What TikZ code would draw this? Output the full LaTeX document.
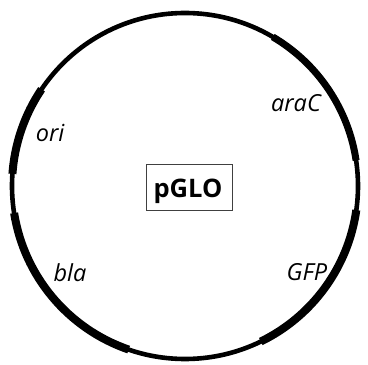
\documentclass[tikz,border=0pt]{standalone}
\usepackage{fontspec}
\setmainfont{Open Sans}
\begin{document}
\begin{tikzpicture}[x=1pt,y=1pt,
  backbone/.style={line width=4.6pt,black},
  gene/.style={line width=8pt,black},
  genelabel/.style={anchor=base,inner sep=0pt,font=\fontsize{23.5}{26}\selectfont\itshape},
  titlebox/.style={draw=black!75,line width=0.8pt,minimum width=86pt,minimum height=46pt,inner sep=0pt}]
\useasboundingbox (0,0) rectangle (368,365);
\coordinate (c) at (185,179);
\draw[backbone] (c) circle (173);
% genes
\draw[gene] ([shift={(146:173)}]c) arc (146:176:173);
\draw[gene] ([shift={(189:173)}]c) arc (189:251:173);
\draw[gene] ([shift={(-64:173)}]c) arc (-64:-8:173);
\draw[gene,line width=7pt] ([shift={(8.5:173)}]c) arc (8.5:59.5:173);
% labels
\node[genelabel] (ori) at (50,223.3) {ori};
\node[genelabel] (arac) at (296,253.3) {araC};
\node[genelabel] (bla) at (70,83) {bla};
\node[genelabel] (gfp) at (307,84) {GFP};
\node[titlebox] (box) at (189,177.5) {};
\node[anchor=base,inner sep=0pt,font=\fontsize{25.5}{28}\selectfont\bfseries] (pglo) at (188,167.7) {pGLO};
\end{tikzpicture}
\end{document}
